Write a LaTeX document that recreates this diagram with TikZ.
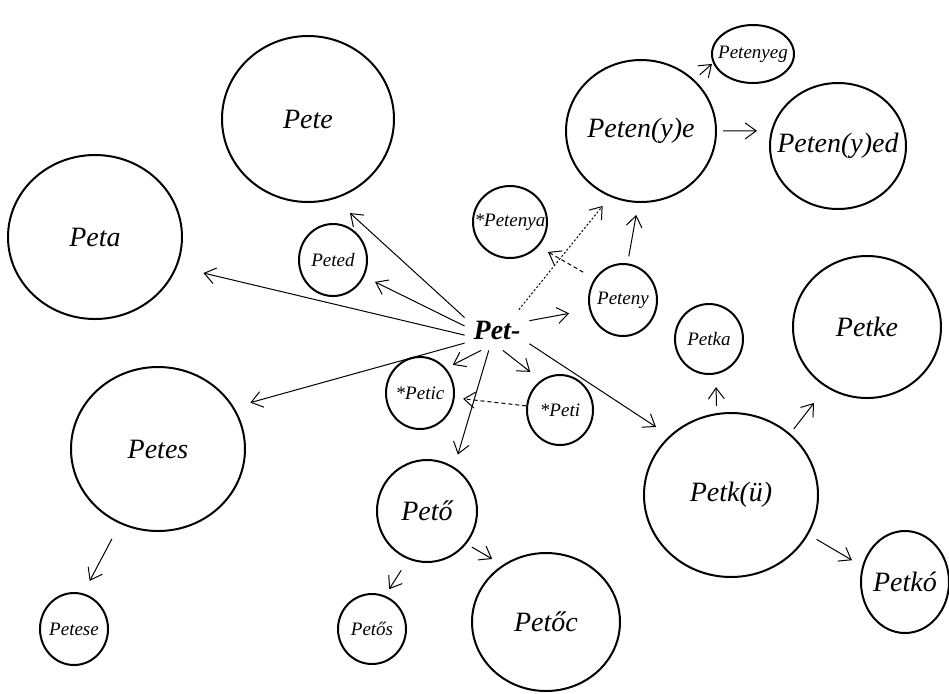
\documentclass[tikz,border=0pt]{standalone}
\usepackage{fontspec}
\setmainfont{Liberation Serif}
\usepackage{tikz}
\usetikzlibrary{shapes.geometric,arrows.meta}

\newcommand{\w}[1]{\makebox[0pt]{#1}}

\begin{document}
\begin{tikzpicture}[x=.5pt, y=-.5pt,
    ring/.style 2 args={ellipse, draw, line width=1pt, inner sep=0pt, outer sep=0pt,
      minimum width=#1pt, minimum height=#2pt},
    big/.style={font=\fontsize{14}{16}\selectfont\itshape},
    small/.style={font=\fontsize{9.5}{11}\selectfont\itshape},
    arr/.style={-{Straight Barb[length=5.5pt,width=8pt]}, line width=.5pt},
    dots/.style={arr, dash pattern=on 1pt off 1pt},
    broken/.style={arr, dash pattern=on 2pt off 1.5pt}]
  \useasboundingbox (0,0) rectangle (949,693);
  \node[font=\fontsize{14}{16}\selectfont\bfseries\itshape, inner sep=0pt,
    minimum width=32pt, minimum height=20pt] at (497,330) (pet) {Pet-};
  \node[big, ring={86}{83}] at (308,119) (pete) {\w{Pete}};
  \node[big, ring={87}{82}] at (95,237) (peta) {\w{Peta}};
  \node[big, ring={87}{82}] at (158,449) (petes) {\w{Petes}};
  \node[small, ring={34}{36}] at (74,629) (petese) {\w{Petese}};
  \node[small, ring={34}{36}] at (333,260) (peted) {\w{Peted}};
  \node[small, ring={37}{36}] at (510,222) (petenya) {\w{*Petenya}};
  \node[big, ring={75}{71}] at (641,131) (peteye) {\w{Peten(y)e}};
  \node[small, ring={41}{29}] at (753,54) (petenyeg) {\w{Petenyeg}};
  \node[big, ring={68}{63}] at (838,146) (petenyed) {\w{Peten(y)ed}};
  \node[small, ring={34}{36}] at (623,300) (peteny) {\w{Peteny}};
  \node[small, ring={34}{35}] at (709,339) (petka) {\w{Petka}};
  \node[big, ring={74}{71}] at (867,327) (petke) {\w{Petke}};
  \node[big, ring={87}{82}] at (731,495) (petku) {\w{Petk(ü)}};
  \node[big, ring={44}{51}] at (905,582) (petko) {\w{Petkó}};
  \node[small, ring={34}{36}] at (420,393) (petic) {\w{*Petic}};
  \node[small, ring={33}{35}] at (560,410) (peti) {\w{*Peti}};
  \node[big, ring={50}{51}] at (427,511) (peto) {\w{Pető}};
  \node[big, ring={74}{69}] at (546,622) (petoc) {\w{Petőc}};
  \node[small, ring={34}{35}] at (372,629) (petos) {\w{Petős}};
  % from the stem
  \draw[arr, shorten >=11pt] (pet.159) -- (pete.-72);
  \draw[arr, shorten >=6.5pt] (pet.173) -- (peted.-28);
  \draw[arr, shorten >=14pt] (pet.189) -- (peta.-20);
  \draw[arr, shorten >=9pt] (pet.202) -- (petes.29);
  \draw[arr, shorten >=4.3pt] (pet.232) -- (petic.44);
  \draw[arr, shorten >=7pt] (pet.248) -- (peto.58);
  \draw[arr, shorten >=7.3pt] (pet.286) -- (peti.122);
  \draw[arr, shorten >=8.5pt] (pet.337) -- (petku.136);
  \draw[arr, shorten >=10.7pt] (pet.16) -- (peteny.196);
  \draw[dots, shorten >=6.4pt] (pet.43) -- (peteye.245);
  % further derivations
  \draw[broken, shorten <=7pt, shorten >=6pt] (peteny.143) -- (petenya.-41);
  \draw[arr, shorten <=4pt, shorten >=6.6pt] (peteny.83) -- (peteye.-92);
  \draw[arr, shorten <=4.2pt, shorten >=1.2pt] (peteye.44) -- (petenyeg.192);
  \draw[arr, shorten <=3.5pt, shorten >=7.5pt] (peteye.0) -- (petenyed.167);
  \draw[broken, shorten <=.5pt, shorten >=4.7pt] (peti.173) -- (petic.-8);
  \draw[arr, shorten <=4.1pt, shorten >=6.9pt] (petku.100) -- (petka.-79);
  \draw[arr, shorten <=3.5pt, shorten >=10.4pt] (petku.46) -- (petke.236);
  \draw[arr, shorten <=5.3pt, shorten >=6.4pt] (petku.-27) -- (petko.160);
  \draw[arr, shorten <=9pt, shorten >=7.5pt] (petes.243) -- (petese.76);
  \draw[arr, shorten <=3.6pt, shorten >=6.5pt] (peto.-40) -- (petoc.127);
  \draw[arr, shorten <=7pt, shorten >=4.3pt] (peto.249) -- (petos.69);
\end{tikzpicture}
\end{document}
